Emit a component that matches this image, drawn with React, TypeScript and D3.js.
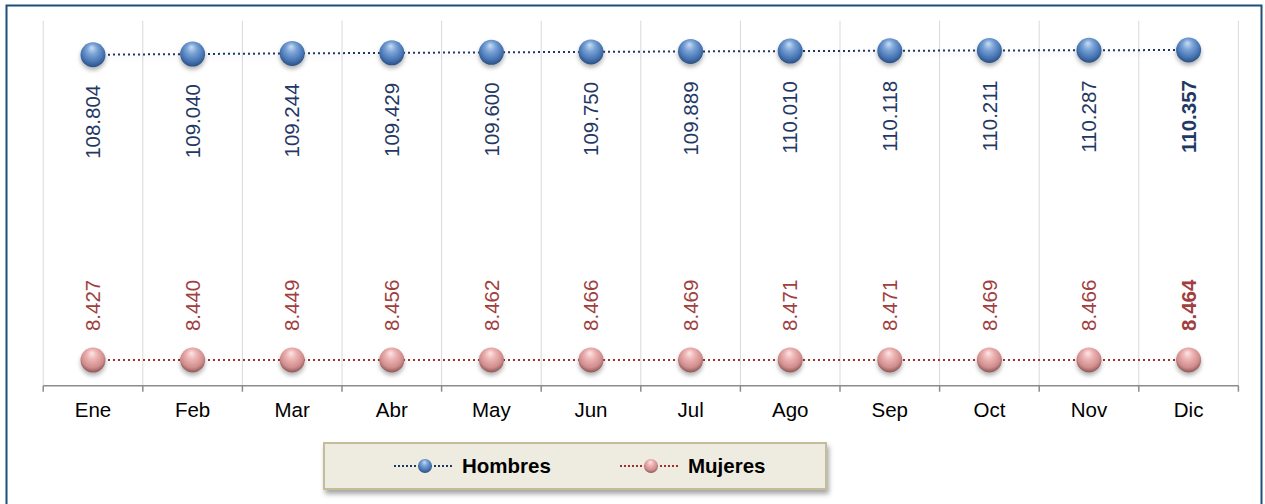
import { scaleBand, scaleLinear, line } from 'd3';

const months = ['Ene', 'Feb', 'Mar', 'Abr', 'May', 'Jun', 'Jul', 'Ago', 'Sep', 'Oct', 'Nov', 'Dic'];
// values in thousands (Spanish format: 108.804 = 108,804)
const hombres = [108.804, 109.040, 109.244, 109.429, 109.600, 109.750, 109.889, 110.010, 110.118, 110.211, 110.287, 110.357];
const mujeres = [8.427, 8.440, 8.449, 8.456, 8.462, 8.466, 8.469, 8.471, 8.471, 8.469, 8.466, 8.464];
const yDomain = [0, 120];
const seriesNames = ['Hombres', 'Mujeres'];

const W = 1265;
const H = 504;
const FONT = '"Liberation Sans", Arial, sans-serif';
const FS = 20.5;

export default function App() {
  const x = scaleBand<string>().domain(months).range([43.2, 1238.4]);
  const y = scaleLinear().domain(yDomain).range([385.7, 20.7]);
  const cx = (m: string) => (x(m) || 0) + x.bandwidth() / 2;

  const path = line<number>()
    .x((_, i) => cx(months[i]))
    .y((d) => y(d));

  const series = [
    { name: seriesNames[0], data: hombres, stroke: '#1F3864', text: '#1F3864', grad: 'gBlue', above: false },
    { name: seriesNames[1], data: mujeres, stroke: '#A0302E', text: '#A0403E', grad: 'gPink', above: true },
  ];

  const [y0, y1] = y.range();

  return (
    <svg width={W} height={H} style={{ position: 'absolute', left: 0, top: 0 }} fontFamily={FONT}>
      <defs>
        <radialGradient id="gBlue" cx="50%" cy="40%" r="60%" fx="45%" fy="22%">
          <stop offset="0%" stopColor="#C9DDF4" />
          <stop offset="35%" stopColor="#7AA3D6" />
          <stop offset="75%" stopColor="#4674B3" />
          <stop offset="100%" stopColor="#2B4F80" />
        </radialGradient>
        <radialGradient id="gPink" cx="50%" cy="40%" r="60%" fx="45%" fy="22%">
          <stop offset="0%" stopColor="#FCE6E6" />
          <stop offset="35%" stopColor="#EDB3B3" />
          <stop offset="75%" stopColor="#D08D8D" />
          <stop offset="100%" stopColor="#8C5656" />
        </radialGradient>
        <filter id="shadow" x="-50%" y="-50%" width="200%" height="200%">
          <feDropShadow dx="0" dy="3" stdDeviation="2" floodColor="#000" floodOpacity="0.3" />
        </filter>
        <filter id="lineShadow" x="-5%" y="-200%" width="110%" height="500%">
          <feDropShadow dx="0" dy="3" stdDeviation="2" floodColor="#000" floodOpacity="0.12" />
        </filter>
        <filter id="boxShadow" x="-5%" y="-30%" width="110%" height="170%">
          <feDropShadow dx="2" dy="4" stdDeviation="2.5" floodColor="#000" floodOpacity="0.35" />
        </filter>
      </defs>

      <rect x={0} y={0} width={W} height={H} fill="#fff" />
      <rect x={6.5} y={5.5} width={1255} height={H + 10} fill="none" stroke="#1F4E79" strokeWidth={2} />

      {/* vertical grid lines */}
      {months.map((m) => (
        <line key={m} x1={x(m)} x2={x(m)} y1={y1} y2={y0} stroke="#D9D9D9" strokeWidth={1} />
      ))}
      <line x1={x.range()[1]} x2={x.range()[1]} y1={y1} y2={y0} stroke="#D9D9D9" strokeWidth={1} />

      {/* x axis */}
      <line x1={x.range()[0]} x2={x.range()[1]} y1={y0} y2={y0} stroke="#8C8C8C" strokeWidth={1.5} />
      {[...months.map((m) => x(m) || 0), x.range()[1]].map((t, i) => (
        <line key={i} x1={t} x2={t} y1={y0} y2={y0 + 6} stroke="#8C8C8C" strokeWidth={1.5} />
      ))}
      {months.map((m) => (
        <text key={m} x={cx(m)} y={417} textAnchor="middle" fontSize={FS} fill="#000">
          {m}
        </text>
      ))}

      {series.map((s) => (
        <g key={s.name}>
          <path d={path(s.data) || ''} fill="none" stroke={s.stroke} strokeWidth={2} strokeDasharray="2,3" filter="url(#lineShadow)" />
          {s.data.map((v, i) => (
            <circle key={i} cx={cx(months[i])} cy={y(v)} r={12.5} fill={`url(#${s.grad})`} filter="url(#shadow)" />
          ))}
          {s.data.map((v, i) => {
            const px = cx(months[i]);
            const py = s.above ? y(v) - 29 : y(v) + 30;
            return (
              <text
                key={i}
                transform={`translate(${px},${py}) rotate(-90)`}
                textAnchor={s.above ? 'start' : 'end'}
                dy="0.35em"
                fontSize={FS}
                fontWeight={i === months.length - 1 ? 'bold' : 'normal'}
                fill={s.text}
              >
                {v.toFixed(3)}
              </text>
            );
          })}
        </g>
      ))}

      {/* legend */}
      <rect x={324} y={443} width={502} height={46} fill="#EEECE1" stroke="#C4BD97" strokeWidth={2} filter="url(#boxShadow)" />
      {series.map((s, i) => {
        const lx = [394, 620][i];
        return (
          <g key={s.name}>
            <line x1={lx} x2={lx + 59} y1={466} y2={466} stroke={s.stroke} strokeWidth={2} strokeDasharray="2,2" />
            <circle cx={lx + 31} cy={466} r={7} fill={`url(#${s.grad})`} />
            <text x={lx + 68} y={473} fontSize={FS} fontWeight="bold" fill="#000">
              {s.name}
            </text>
          </g>
        );
      })}
    </svg>
  );
}
